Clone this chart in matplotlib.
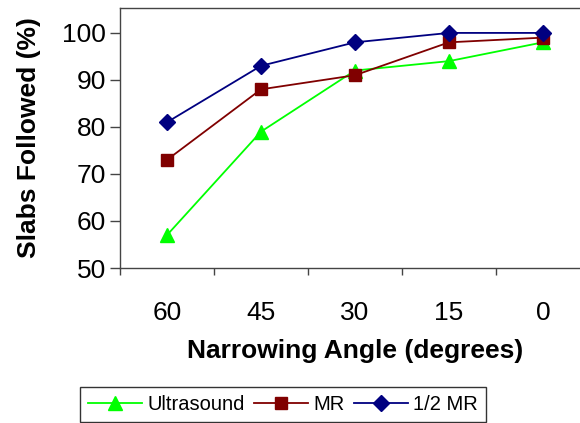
import matplotlib
matplotlib.use("Agg")
import matplotlib.pyplot as plt
from matplotlib.ticker import FixedLocator

angles = ["60", "45", "30", "15", "0"]
ultrasound = [57, 79, 92, 94, 98]
mr = [73, 88, 91, 98, 99]
half_mr = [81, 93, 98, 100, 100]
y_ticks = [50, 60, 70, 80, 90, 100]

plt.rcParams["font.family"] = ["Liberation Sans", "DejaVu Sans"]

fig = plt.figure(figsize=(5.8, 4.23), dpi=100)
ax = fig.add_axes([120 / 580, 1 - 268 / 423, 470 / 580, 260 / 423])

x = list(range(len(angles)))
ax.plot(x, ultrasound, color="#00FF00", marker="^", markersize=10, lw=1.3,
        label="Ultrasound")
ax.plot(x, mr, color="#800000", marker="s", markersize=9, lw=1.3, label="MR")
ax.plot(x, half_mr, color="#000080", marker="D", markersize=8, lw=1.3,
        label="1/2 MR")

ax.set_xlim(-0.5, len(angles) - 0.5)
ax.set_ylim(50, 105.3)
ax.set_xticks(x)
ax.set_xticklabels(angles)
ax.xaxis.set_minor_locator(FixedLocator([i - 0.5 for i in range(len(angles) + 1)]))
ax.tick_params(axis="x", which="major", length=0, pad=24, labelsize=19)
ax.tick_params(axis="x", which="minor", length=5, width=1, color="#444444")
ax.set_yticks(y_ticks)
ax.tick_params(axis="y", length=7, width=1, labelsize=19, pad=3, color="#444444")

for s in ("left", "bottom", "top"):
    ax.spines[s].set_color("#444444")
    ax.spines[s].set_linewidth(1.0)
ax.spines["right"].set_visible(False)

ax.set_xlabel("Narrowing Angle (degrees)", fontsize=19, fontweight="bold",
              labelpad=10)
ax.set_ylabel("Slabs Followed (%)", fontsize=19, fontweight="bold", labelpad=15)

handles, labels = ax.get_legend_handles_labels()
leg = fig.legend(handles, labels, loc="upper left",
                 bbox_to_anchor=(80 / 580, 1 - 387 / 423), ncol=3,
                 fontsize=14.5, frameon=True, fancybox=False, handlelength=2.7,
                 handletextpad=0.25, columnspacing=0.45, borderpad=0.4,
                 borderaxespad=0)
leg.get_frame().set_edgecolor("black")
leg.get_frame().set_linewidth(1.0)

fig.savefig("out.png", dpi=100)
